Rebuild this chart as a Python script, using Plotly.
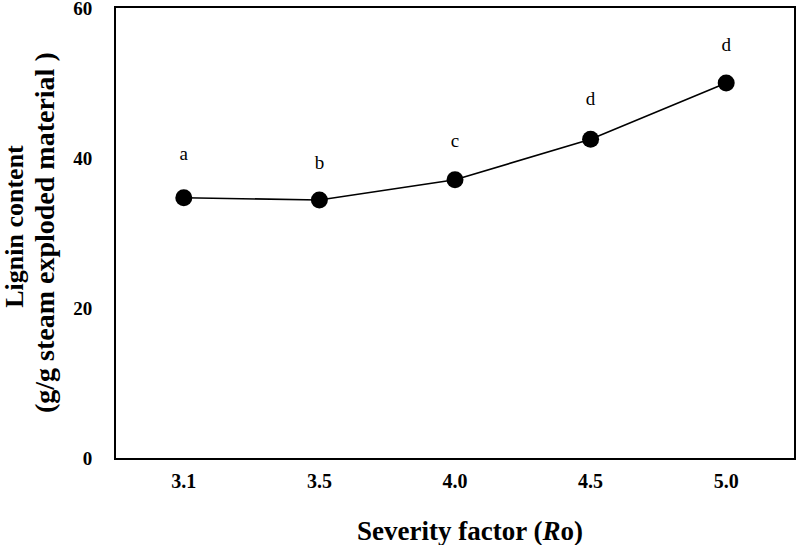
import plotly.graph_objects as go

severity = ["3.1", "3.5", "4.0", "4.5", "5.0"]
lignin = [34.7, 34.4, 37.1, 42.5, 50.0]
letters = ["a", "b", "c", "d", "d"]
letter_y = [40.4, 39.2, 42.1, 47.7, 54.9]
y_ticks = [0, 20, 40, 60]

serif = "Liberation Serif, Times New Roman, serif"

fig = go.Figure()
fig.add_trace(go.Scatter(
    x=severity, y=lignin, mode="lines+markers",
    line=dict(color="black", width=1.6),
    marker=dict(color="black", size=17),
    showlegend=False,
))
fig.add_trace(go.Scatter(
    x=severity, y=letter_y, mode="text", text=letters,
    textfont=dict(family=serif, size=19, color="black"),
    showlegend=False,
))

fig.add_annotation(
    text="<b>Severity factor (<i>R</i>o)</b>",
    xref="paper", yref="paper", x=0.522, y=-0.162,
    xanchor="center", yanchor="middle", showarrow=False,
    font=dict(family=serif, size=27, color="black"),
)
fig.add_annotation(
    text="<b>Lignin content</b>",
    xref="paper", yref="paper", x=-0.1490, y=0.516, textangle=-90,
    xanchor="center", yanchor="middle", showarrow=False,
    font=dict(family=serif, size=26, color="black"),
)
fig.add_annotation(
    text="<b>(g/g steam exploded material )</b>",
    xref="paper", yref="paper", x=-0.1062, y=0.502, textangle=-90,
    xanchor="center", yanchor="middle", showarrow=False,
    font=dict(family=serif, size=28, color="black"),
)

fig.update_layout(
    width=801, height=545,
    margin=dict(l=116, r=7, t=8, b=87, autoexpand=False),
    paper_bgcolor="white", plot_bgcolor="white",
    font=dict(family=serif, color="black"),
    xaxis=dict(
        type="category", range=[-0.5, 4.5], automargin=False,
        showline=True, linecolor="black", linewidth=2, mirror=True,
        showgrid=False, ticks="",
        tickfont=dict(family=serif, size=20, color="black", weight="bold"),
        ticklabelstandoff=4,
    ),
    yaxis=dict(
        range=[0, 60], tickvals=y_ticks, automargin=False,
        showline=True, linecolor="black", linewidth=2, mirror=True,
        showgrid=False, zeroline=False, ticks="",
        tickfont=dict(family=serif, size=19, color="black", weight="bold"),
        ticklabelstandoff=18, ticklabeloverflow="allow",
    ),
)

fig.write_html(
    "out.html",
    config={"displayModeBar": False},
    post_script="document.body.style.margin='0';document.body.style.overflow='hidden';",
)
